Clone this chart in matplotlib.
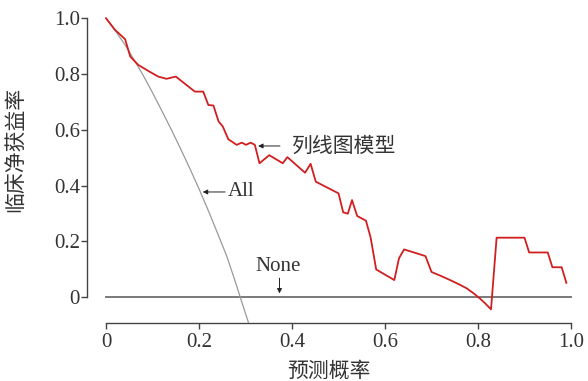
import matplotlib
matplotlib.use('Agg')
import matplotlib.pyplot as plt

plt.rcParams['font.family'] = ['Liberation Serif', 'Noto Sans CJK SC', 'DejaVu Sans']

# nomogram model net benefit
model_x = [0, 0.019, 0.041, 0.052, 0.069, 0.091, 0.112, 0.13, 0.15, 0.191, 0.209, 0.22,
           0.231, 0.242, 0.251, 0.263, 0.281, 0.292, 0.301, 0.311, 0.32, 0.33, 0.351,
           0.38, 0.39, 0.428, 0.44, 0.451, 0.5, 0.51, 0.52, 0.529, 0.54, 0.559, 0.569,
           0.581, 0.62, 0.63, 0.641, 0.687, 0.70, 0.72, 0.74, 0.76, 0.776, 0.79, 0.804,
           0.815, 0.828, 0.84, 0.9, 0.91, 0.95, 0.96, 0.98, 0.99]
model_y = [1.0, 0.959, 0.925, 0.863, 0.833, 0.811, 0.791, 0.783, 0.791, 0.737, 0.737, 0.689,
           0.687, 0.63, 0.612, 0.566, 0.546, 0.554, 0.546, 0.554, 0.546, 0.48, 0.509,
           0.48, 0.502, 0.446, 0.478, 0.414, 0.372, 0.304, 0.299, 0.348, 0.291, 0.274, 0.214,
           0.099, 0.061, 0.139, 0.171, 0.147, 0.09, 0.076, 0.061, 0.045, 0.031, 0.014, -0.005,
           -0.022, -0.044, 0.213, 0.213, 0.16, 0.16, 0.107, 0.107, 0.051]

# treat-all curve
all_x = [0, 0.02, 0.04, 0.06, 0.08, 0.10, 0.12, 0.14, 0.16, 0.18, 0.20, 0.22, 0.24,
         0.26, 0.28, 0.29, 0.306]
all_y = [1.0, 0.955, 0.907, 0.852, 0.795, 0.733, 0.668, 0.602, 0.533, 0.462, 0.388, 0.31,
         0.228, 0.145, 0.045, -0.008, -0.09]

# treat-none
none_x = [0, 1.0]
none_y = [0, 0]

ticks = [0, 0.2, 0.4, 0.6, 0.8, 1.0]
tick_labels = ['0', '0.2', '0.4', '0.6', '0.8', '1.0']

fig = plt.figure(figsize=(5.88, 3.81), dpi=100)
ax = fig.add_axes([87 / 588, 58 / 381, (571 - 87) / 588, (323 - 18.3) / 381])

txt = '#333333'
ax.plot(none_x, none_y, color='#7a7a7a', lw=1.4, clip_on=False)
ax.plot(all_x, all_y, color='#9a9a9a', lw=0.9, clip_on=False)
ax.plot(model_x, model_y, color='#d11f20', lw=1.3, clip_on=False)

ax.set_xlim(-0.041, 1.0)
ax.set_ylim(-0.093, 1.0)

for s in ['top', 'right']:
    ax.spines[s].set_visible(False)
ax.spines['left'].set_bounds(0, 1)
ax.spines['bottom'].set_bounds(0, 1)
for s in ['left', 'bottom']:
    ax.spines[s].set_color('#444444')
    ax.spines[s].set_linewidth(1.0)

ax.set_xticks(ticks)
ax.set_xticklabels(tick_labels)
ax.set_yticks(ticks)
ax.set_yticklabels(tick_labels)
ax.tick_params(axis='both', labelsize=15, colors='#444444', labelcolor=txt, length=4, width=1)
ax.tick_params(axis='y', pad=1)
ax.tick_params(axis='x', pad=3)

ax.set_xlabel('预测概率', fontsize=15, color=txt, family=['Noto Sans CJK SC'])
ax.set_ylabel('临床净获益率', fontsize=15, color=txt, family=['Noto Sans CJK SC'])
ax.yaxis.set_label_coords(-0.125, 0.57)
ax.xaxis.set_label_coords(0.5, -0.122)

arrow = dict(arrowstyle='-|>', color='#222222', lw=0.7, mutation_scale=7, shrinkA=0, shrinkB=0)
ax.annotate('', xy=(0.327, 0.542), xytext=(0.374, 0.542), arrowprops=arrow)
ax.text(0.399, 0.542, '列线图模型', fontsize=15, color=txt, ha='left', va='center',
        family=['Noto Sans CJK SC'])
ax.annotate('', xy=(0.208, 0.377), xytext=(0.256, 0.377), arrowprops=arrow)
ax.text(0.262, 0.377, 'All', fontsize=15, color=txt, ha='left', va='center')
ax.annotate('', xy=(0.373, 0.013), xytext=(0.373, 0.068), arrowprops=arrow)
ax.text(0.37, 0.108, 'None', fontsize=15, color=txt, ha='center', va='center')

fig.savefig('out.png', dpi=100)
